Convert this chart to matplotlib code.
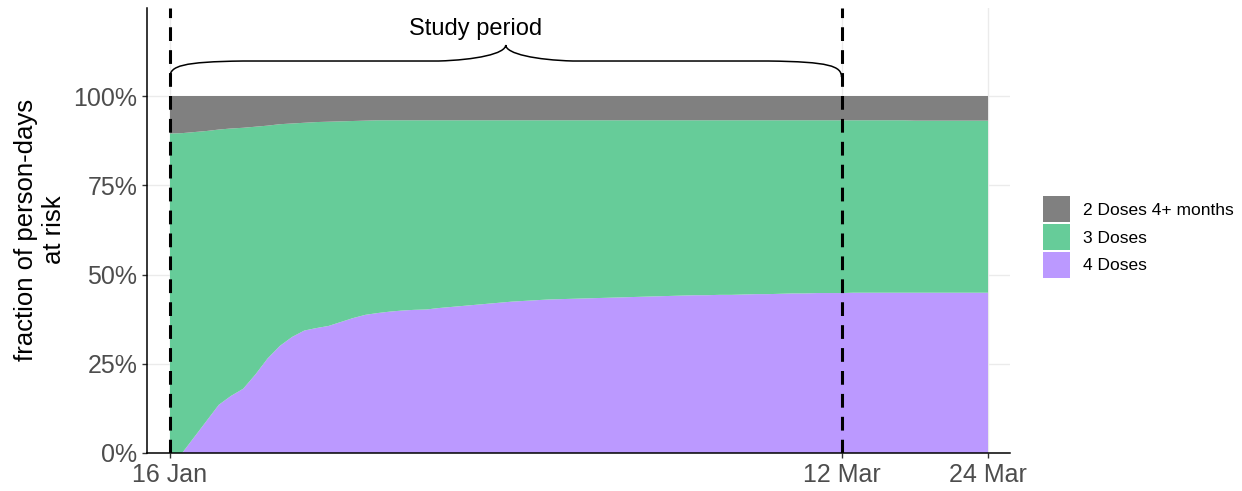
import numpy as np
import pandas as pd
import matplotlib
matplotlib.use('Agg')
import matplotlib.pyplot as plt
import matplotlib.dates as mdates
from matplotlib.patches import Patch, PathPatch
from matplotlib.path import Path

plt.rcParams['font.family'] = ['Liberation Sans', 'DejaVu Sans']

# data: daily share of person-days at risk, 16 Jan - 24 Mar 2022
start_date = '2022-01-16'
study_end = '2022-03-12'
n_days = 68

four_doses = [0.000, 0.000, 0.045, 0.090, 0.135, 0.160, 0.180, 0.220, 0.265, 0.300,
              0.325, 0.343, 0.350, 0.356, 0.367, 0.378, 0.387, 0.392, 0.396, 0.399,
              0.401, 0.402, 0.406, 0.409, 0.412, 0.415, 0.418, 0.421, 0.424, 0.426,
              0.428, 0.430, 0.431, 0.432, 0.433, 0.434, 0.435, 0.436, 0.437, 0.438,
              0.439, 0.440, 0.441, 0.442, 0.442, 0.443, 0.443, 0.444, 0.445, 0.445,
              0.446, 0.447, 0.447, 0.448, 0.448, 0.448, 0.449, 0.449, 0.449, 0.449,
              0.449, 0.449, 0.449, 0.449, 0.449, 0.449, 0.449, 0.449]

two_doses = [0.105, 0.104, 0.101, 0.098, 0.094, 0.091, 0.089, 0.086, 0.083, 0.079,
             0.077, 0.075, 0.073, 0.072, 0.071, 0.070, 0.069, 0.068, 0.068, 0.068,
             0.068, 0.068, 0.068, 0.068, 0.068, 0.068, 0.068, 0.068, 0.068, 0.068,
             0.068, 0.068, 0.068, 0.068, 0.068, 0.068, 0.068, 0.068, 0.068, 0.068,
             0.068, 0.068, 0.068, 0.068, 0.068, 0.068, 0.068, 0.068, 0.068, 0.068,
             0.068, 0.068, 0.068, 0.068, 0.068, 0.068, 0.068, 0.068, 0.068, 0.068,
             0.068, 0.069, 0.069, 0.069, 0.069, 0.069, 0.069, 0.069]

labels = ['2 Doses 4+ months', '3 Doses', '4 Doses']
colors = ['#808080', '#66cc99', '#bb99ff']

four = np.array(four_doses)
two = np.array(two_doses)
three = 1.0 - two - four
dates = pd.date_range(start_date, periods=n_days)

fig = plt.figure(figsize=(12.42, 4.91), dpi=100)
ax = fig.add_axes([147 / 1242, 1 - 453 / 491, 863 / 1242, 445 / 491])

ax.stackplot(dates, four, three, two, colors=colors[::-1], linewidth=0, zorder=2)

d0 = mdates.date2num(dates[0])
d1 = mdates.date2num(pd.Timestamp(study_end))
d_last = mdates.date2num(dates[-1])
ax.set_xlim(d0 - 1.88, d_last + 1.8)
ax.set_ylim(0, 1.2465)

# study period markers
for d in [d0, d1]:
    ax.axvline(d, color='black', lw=2.2, ls=(0, (4.5, 3)), zorder=4)

# curly brace over the study period
y_end, y_mid, y_bend, y_tip = 1.053, 1.098, 1.084, 1.143
xm = (d0 + d1) / 2
c = 6.0
verts = [(d0, y_end),
         (d0, y_bend), (d0 + 1.0, y_mid - 0.002), (d0 + c, y_mid),
         (xm - 5.5, y_mid),
         (xm - 2.5, y_mid + 0.003), (xm, y_mid + 0.02), (xm, y_tip),
         (xm, y_mid + 0.02), (xm + 2.5, y_mid + 0.003), (xm + 5.5, y_mid),
         (d1 - c, y_mid),
         (d1 - 1.0, y_mid - 0.002), (d1, y_bend), (d1, y_end)]
codes = [Path.MOVETO,
         Path.CURVE4, Path.CURVE4, Path.CURVE4,
         Path.LINETO,
         Path.CURVE4, Path.CURVE4, Path.CURVE4,
         Path.CURVE4, Path.CURVE4, Path.CURVE4,
         Path.LINETO,
         Path.CURVE4, Path.CURVE4, Path.CURVE4]
ax.add_patch(PathPatch(Path(verts, codes), facecolor='none', edgecolor='black', lw=1.1, zorder=3))
ax.text(d0 + 25, 1.188, 'Study period', ha='center', va='center', fontsize=17, color='black')

# axes styling
ax.set_yticks([0, 0.25, 0.5, 0.75, 1.0])
ax.set_yticklabels(['0%', '25%', '50%', '75%', '100%'])
ax.set_xticks([d0, d1, d_last])
ax.set_xticklabels(['16 Jan', '12 Mar', '24 Mar'])
ax.grid(True, color='#ebebeb', lw=1)
ax.set_axisbelow(True)
for s in ['top', 'right']:
    ax.spines[s].set_visible(False)
for s in ['left', 'bottom']:
    ax.spines[s].set_linewidth(1.1)
    ax.spines[s].set_color('black')
ax.tick_params(axis='both', length=3.5, width=1, color='#333333', labelcolor='#4d4d4d',
               labelsize=18, pad=3.5)

fig.text(40 / 1242, 1 - 230 / 491, 'fraction of person-days\nat risk', rotation=90,
         ha='center', va='center', fontsize=18.5, linespacing=1.2)

handles = [Patch(facecolor=col, edgecolor='none') for col in colors]
fig.legend(handles, labels, loc='center left', bbox_to_anchor=(1043 / 1242, 1 - 237 / 491),
           frameon=False, fontsize=12.5, handlelength=1.55, handleheight=1.9,
           labelspacing=0.12, handletextpad=0.75, borderpad=0, borderaxespad=0)

fig.savefig('out.png', dpi=100)
